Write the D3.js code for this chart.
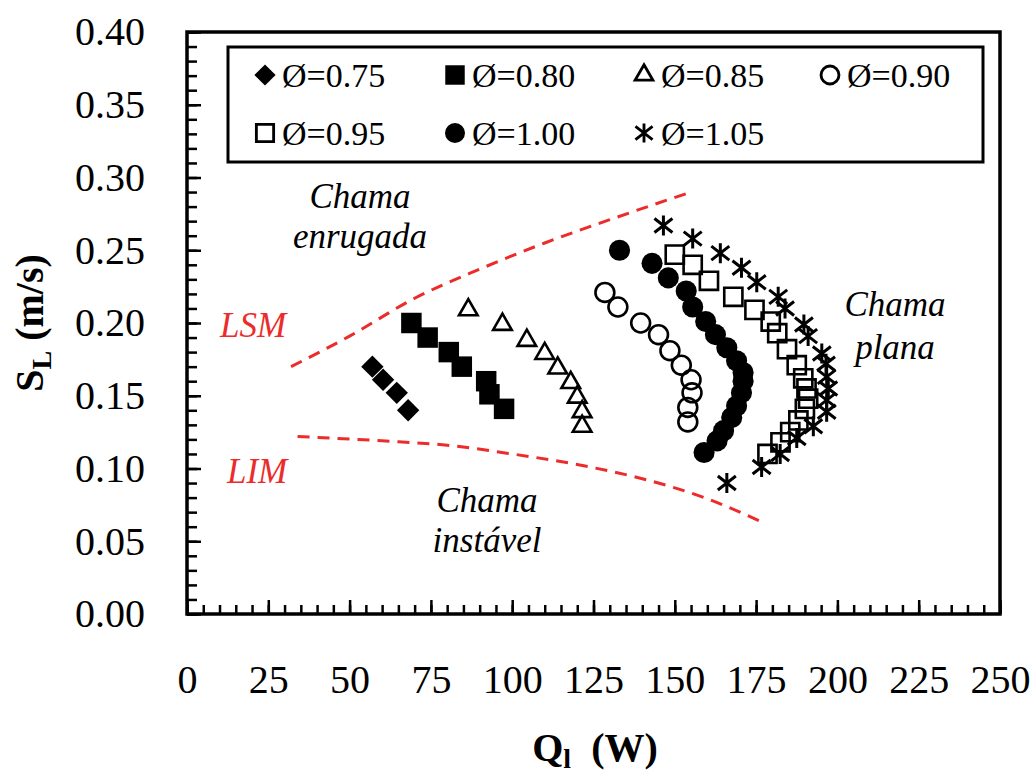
<!DOCTYPE html>
<html>
<head>
<meta charset="utf-8">
<script src="https://d3js.org/d3.v7.min.js"></script>
<style>
    body { margin: 0; background: #fff; }
    text { font-family: "Liberation Serif", "Times New Roman", serif; }
</style>
</head>
<body>
<div id="my_dataviz"></div>
<script>

    // series values
    var seriesLabels = ["Ø=0.75", "Ø=0.80", "Ø=0.85", "Ø=0.90", "Ø=0.95", "Ø=1.00", "Ø=1.05"];

    var q075 = [57, 60.3, 64.5, 68];
    var s075 = [0.170, 0.161, 0.152, 0.140];

    var q080 = [69, 74, 80.5, 84.5, 92, 93, 97.5];
    var s080 = [0.200, 0.190, 0.180, 0.170, 0.160, 0.151, 0.141];

    var q085 = [86.5, 97, 104.5, 110, 114, 118, 120, 121.5, 121.5];
    var s085 = [0.209, 0.199, 0.188, 0.179, 0.169, 0.159, 0.149, 0.139, 0.129];

    var q090 = [128.5, 132.5, 139.5, 145, 148.5, 152, 155, 155.3, 154, 154];
    var s090 = [0.221, 0.211, 0.200, 0.192, 0.181, 0.171, 0.161, 0.152, 0.142, 0.132];

    var q095 = [150, 155.5, 160.5, 168, 174.5, 179.5, 181.5, 184.5, 187.5, 189.5, 190.5, 191, 190, 188, 185.5, 182.5, 178.5];
    var s095 = [0.247, 0.240, 0.229, 0.218, 0.209, 0.201, 0.193, 0.182, 0.171, 0.162, 0.155, 0.148, 0.141, 0.133, 0.125, 0.118, 0.110];

    var q100 = [133, 143, 148, 153.5, 155.5, 159.5, 162.5, 166, 169, 171, 171, 170.5, 169, 167.5, 165, 163, 159];
    var s100 = [0.250, 0.241, 0.231, 0.222, 0.211, 0.201, 0.192, 0.183, 0.174, 0.166, 0.160, 0.152, 0.143, 0.135, 0.126, 0.119, 0.111];

    var q105 = [146.5, 155.5, 164, 170.5, 175.2, 181.8, 183.9, 189.7, 191, 195.2, 196.5, 196.7, 197.2, 196.7, 196.7, 192.6, 187.5, 182.4, 176.7, 166];
    var s105 = [0.267, 0.258, 0.248, 0.238, 0.228, 0.218, 0.210, 0.199, 0.191, 0.179, 0.172, 0.163, 0.155, 0.147, 0.139, 0.129, 0.121, 0.110, 0.101, 0.090];

    // stability limits (red dashed)
    var lsmQ = [32, 50, 70, 90, 110, 130, 155];
    var lsmS = [0.170, 0.191, 0.217, 0.237, 0.255, 0.271, 0.290];
    var limQ = [34, 60, 80, 100, 124, 140, 159, 177];
    var limS = [0.122, 0.119, 0.116, 0.110, 0.101, 0.093, 0.080, 0.063];

    var xTicks = [0, 25, 50, 75, 100, 125, 150, 175, 200, 225, 250];
    var yTicks = [0, 0.05, 0.10, 0.15, 0.20, 0.25, 0.30, 0.35, 0.40];

    var margin = { top: 32, right: 34, bottom: 162, left: 187 },
        width = 1034 - margin.left - margin.right,
        height = 776 - margin.top - margin.bottom;

    var svg = d3.select("#my_dataviz")
        .append("svg")
        .attr("width", 1034)
        .attr("height", 776);

    var g = svg.append("g")
        .attr("transform", "translate(" + margin.left + "," + margin.top + ")");

    var x = d3.scaleLinear().domain([0, 250]).range([0, width]);
    var y = d3.scaleLinear().domain([0, 0.4]).range([height, 0]);

    // minor ticks (inward, no labels)
    g.append("g")
        .attr("transform", "translate(0," + height + ")")
        .call(d3.axisBottom(x).tickValues(d3.range(0, 251, 5)).tickSize(-9).tickFormat(""))
        .call(function (a) { a.select(".domain").remove(); a.selectAll("line").attr("stroke-width", 2.5); });
    g.append("g")
        .call(d3.axisLeft(y).tickValues(d3.range(0, 41).map(function (d) { return d / 100; })).tickSize(-10).tickFormat(""))
        .call(function (a) { a.select(".domain").remove(); a.selectAll("line").attr("stroke-width", 2.5); });

    // major ticks + labels
    g.append("g")
        .attr("transform", "translate(0," + height + ")")
        .call(d3.axisBottom(x).tickValues(xTicks).tickSize(-14).tickPadding(51).tickFormat(d3.format("d")))
        .call(function (a) {
            a.select(".domain").remove();
            a.selectAll("line").attr("stroke-width", 2.5);
            a.selectAll("text").style("font-size", "40px").style("fill", "#000");
        });
    g.append("g")
        .call(d3.axisLeft(y).tickValues(yTicks).tickSize(-14).tickPadding(42).tickFormat(d3.format(".2f")))
        .call(function (a) {
            a.select(".domain").remove();
            a.selectAll("line").attr("stroke-width", 2.5);
            a.selectAll("text").style("font-size", "40px").style("fill", "#000");
        });

    // frame
    g.append("rect")
        .attr("width", width).attr("height", height)
        .attr("fill", "none").attr("stroke", "#000").attr("stroke-width", 3.5);

    // limit curves
    var red = "#ec2b2b";
    var line = d3.line()
        .x(function (d) { return x(d[0]); })
        .y(function (d) { return y(d[1]); })
        .curve(d3.curveMonotoneX);
    g.append("path")
        .attr("d", line(d3.zip(lsmQ, lsmS)))
        .attr("fill", "none").attr("stroke", red).attr("stroke-width", 3).attr("stroke-dasharray", "12,8");
    g.append("path")
        .attr("d", line(d3.zip(limQ, limS)))
        .attr("fill", "none").attr("stroke", red).attr("stroke-width", 3).attr("stroke-dasharray", "12,8");

    // marker styles
    var asterisk = "M0,-10V10M-9,-7L9,7M-9,7L9,-7";
    var markers = [
        { d: d3.symbol(d3.symbolSquare, 250)(), rot: 45, fill: "#000", stroke: "none" },
        { d: d3.symbol(d3.symbolSquare, 420)(), rot: 0, fill: "#000", stroke: "none" },
        { d: d3.symbol(d3.symbolTriangle, 150)(), rot: 0, fill: "none", stroke: "#000" },
        { d: d3.symbol(d3.symbolCircle, 280)(), rot: 0, fill: "none", stroke: "#000" },
        { d: d3.symbol(d3.symbolSquare, 330)(), rot: 0, fill: "none", stroke: "#000" },
        { d: d3.symbol(d3.symbolCircle, 350)(), rot: 0, fill: "#000", stroke: "none" },
        { d: asterisk, rot: 0, fill: "none", stroke: "#000" }
    ];

    var series = [
        d3.zip(q075, s075), d3.zip(q080, s080), d3.zip(q085, s085), d3.zip(q090, s090),
        d3.zip(q095, s095), d3.zip(q100, s100), d3.zip(q105, s105)
    ];

    series.forEach(function (pts, i) {
        var m = markers[i];
        g.append("g")
            .selectAll("path")
            .data(pts)
            .enter()
            .append("path")
            .attr("d", m.d)
            .attr("transform", function (d) { return "translate(" + x(d[0]) + "," + y(d[1]) + ") rotate(" + m.rot + ")"; })
            .attr("fill", m.fill)
            .attr("stroke", m.stroke)
            .attr("stroke-width", i == 6 ? 3 : 2.6);
    });

    // legend
    svg.append("rect")
        .attr("x", 228).attr("y", 47).attr("width", 755).attr("height", 115)
        .attr("fill", "#fff").attr("stroke", "#000").attr("stroke-width", 3);
    var legX = [265, 455, 644, 830];
    var legY = [75, 133];
    seriesLabels.forEach(function (lab, i) {
        var cx = legX[i % 4], cy = legY[Math.floor(i / 4)];
        var m = markers[i];
        svg.append("path")
            .attr("d", m.d)
            .attr("transform", "translate(" + cx + "," + cy + ") rotate(" + m.rot + ") scale(0.95)")
            .attr("fill", m.fill).attr("stroke", m.stroke).attr("stroke-width", 3);
        svg.append("text")
            .attr("x", cx + 17).attr("y", cy + 12)
            .style("font-size", "34px").style("fill", "#000")
            .text(lab);
    });

    // annotations
    function note(lines, cx, y0, dy, color, anchor) {
        var t = svg.append("text")
            .attr("text-anchor", anchor || "middle")
            .style("font-size", "35px").style("font-style", "italic")
            .style("fill", color || "#000");
        lines.forEach(function (l, k) {
            t.append("tspan").attr("x", cx).attr("y", y0 + k * dy).text(l);
        });
    }
    note(["Chama", "enrugada"], 360, 208, 40);
    note(["Chama", "instável"], 487, 512, 40);
    note(["Chama", "plana"], 895, 316, 43);
    note(["LSM"], 220, 337, 0, red, "start");
    note(["LIM"], 227, 483, 0, red, "start");

    // axis titles
    var xt = svg.append("text")
        .attr("x", 595).attr("y", 761)
        .attr("text-anchor", "middle")
        .style("font-size", "40px").style("font-weight", "bold").style("fill", "#000");
    xt.append("tspan").text("Q");
    xt.append("tspan").attr("dy", 7).style("font-size", "28px").text("l");
    xt.append("tspan").attr("dy", -7).text("\u00a0 (W)");

    var yt = svg.append("text")
        .attr("transform", "translate(43,323) rotate(-90)")
        .attr("text-anchor", "middle")
        .style("font-size", "40px").style("font-weight", "bold").style("fill", "#000");
    yt.append("tspan").text("S");
    yt.append("tspan").attr("dy", 8).style("font-size", "28px").text("L");
    yt.append("tspan").attr("dy", -8).text(" (m/s)");

</script>
</body>
</html>
